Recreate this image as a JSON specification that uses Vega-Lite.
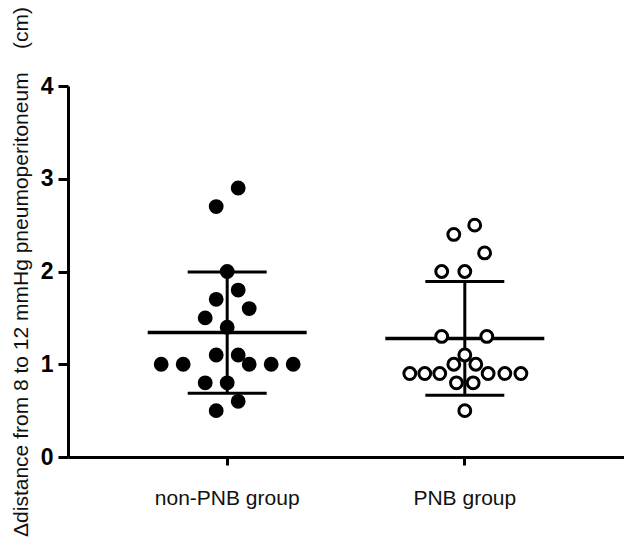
{
  "$schema": "https://vega.github.io/schema/vega-lite/v6.json",
  "width": 556,
  "height": 371,
  "autosize": {"type": "none"},
  "padding": {"left": 68, "top": 86, "right": 0, "bottom": 90},
  "background": "white",
  "config": {
    "view": {"stroke": null},
    "font": "Liberation Sans"
  },
  "data": {
    "values": [
      {"group": "non-PNB group", "value": 2.9, "dx": 0.5},
      {"group": "non-PNB group", "value": 2.7, "dx": -0.5},
      {"group": "non-PNB group", "value": 2.0, "dx": 0},
      {"group": "non-PNB group", "value": 1.8, "dx": 0.5},
      {"group": "non-PNB group", "value": 1.7, "dx": -0.5},
      {"group": "non-PNB group", "value": 1.6, "dx": 1},
      {"group": "non-PNB group", "value": 1.5, "dx": -1},
      {"group": "non-PNB group", "value": 1.4, "dx": 0},
      {"group": "non-PNB group", "value": 1.1, "dx": -0.5},
      {"group": "non-PNB group", "value": 1.1, "dx": 0.5},
      {"group": "non-PNB group", "value": 1.0, "dx": -3},
      {"group": "non-PNB group", "value": 1.0, "dx": -2},
      {"group": "non-PNB group", "value": 1.0, "dx": 1},
      {"group": "non-PNB group", "value": 1.0, "dx": 2},
      {"group": "non-PNB group", "value": 1.0, "dx": 3},
      {"group": "non-PNB group", "value": 0.8, "dx": -1},
      {"group": "non-PNB group", "value": 0.8, "dx": 0},
      {"group": "non-PNB group", "value": 0.6, "dx": 0.5},
      {"group": "non-PNB group", "value": 0.5, "dx": -0.5},
      {"group": "PNB group", "value": 2.5, "dx": 0.45},
      {"group": "PNB group", "value": 2.4, "dx": -0.5},
      {"group": "PNB group", "value": 2.2, "dx": 0.9},
      {"group": "PNB group", "value": 2.0, "dx": -1.05},
      {"group": "PNB group", "value": 2.0, "dx": 0},
      {"group": "PNB group", "value": 1.3, "dx": -1.05},
      {"group": "PNB group", "value": 1.3, "dx": 1},
      {"group": "PNB group", "value": 1.1, "dx": 0},
      {"group": "PNB group", "value": 1.0, "dx": -0.5},
      {"group": "PNB group", "value": 1.0, "dx": 0.5},
      {"group": "PNB group", "value": 0.9, "dx": -2.5},
      {"group": "PNB group", "value": 0.9, "dx": -1.82},
      {"group": "PNB group", "value": 0.9, "dx": -1.14},
      {"group": "PNB group", "value": 0.9, "dx": 1.06},
      {"group": "PNB group", "value": 0.9, "dx": 1.82},
      {"group": "PNB group", "value": 0.9, "dx": 2.55},
      {"group": "PNB group", "value": 0.8, "dx": -0.38},
      {"group": "PNB group", "value": 0.8, "dx": 0.38},
      {"group": "PNB group", "value": 0.5, "dx": 0}
    ]
  },
  "encoding": {
    "x": {
      "field": "group",
      "type": "nominal",
      "sort": ["non-PNB group", "PNB group"],
      "scale": {"paddingInner": 0, "paddingOuter": 0.17},
      "axis": {
        "title": null,
        "labelAngle": 0,
        "labelFont": "Liberation Sans",
        "labelFontSize": 21,
        "labelColor": "#111",
        "labelPadding": 22,
        "tickSize": 8,
        "tickWidth": 3,
        "tickColor": "black",
        "domainWidth": 3,
        "domainColor": "black"
      }
    },
    "y": {
      "field": "value",
      "type": "quantitative",
      "scale": {"domain": [0, 4], "nice": false},
      "axis": {
        "title": "Δdistance from 8 to 12 mmHg pneumoperitoneum\u00a0\u00a0\u00a0\u00a0(cm)",
        "titleFont": "Liberation Sans",
        "titleFontSize": 21,
        "titleFontWeight": "normal",
        "titleColor": "#111",
        "titlePadding": 9,
        "values": [0, 1, 2, 3, 4],
        "grid": false,
        "labelFont": "Liberation Sans",
        "labelFontSize": 23,
        "labelFontWeight": "bold",
        "labelColor": "black",
        "labelPadding": 5,
        "tickSize": 10,
        "tickWidth": 3,
        "tickColor": "black",
        "domainWidth": 3,
        "domainColor": "black"
      }
    }
  },
  "layer": [
    {
      "mark": {"type": "errorbar", "extent": "stdev", "thickness": 3, "color": "black", "ticks": {"size": 79, "color": "black", "opacity": 1, "thickness": 3}}
    },
    {
      "mark": {"type": "tick", "size": 159, "thickness": 3.5, "color": "black", "opacity": 1},
      "encoding": {
        "y": {"aggregate": "mean", "field": "value", "type": "quantitative"}
      }
    },
    {
      "mark": {"type": "point", "shape": "circle", "size": 140, "strokeWidth": 3, "stroke": "black", "opacity": 1, "filled": false},
      "encoding": {
        "xOffset": {"field": "dx", "type": "quantitative", "scale": {"domain": [-5.4, 5.4]}},
        "fill": {
          "field": "group",
          "type": "nominal",
          "scale": {"domain": ["non-PNB group", "PNB group"], "range": ["black", "white"]},
          "legend": null
        }
      }
    }
  ]
}
